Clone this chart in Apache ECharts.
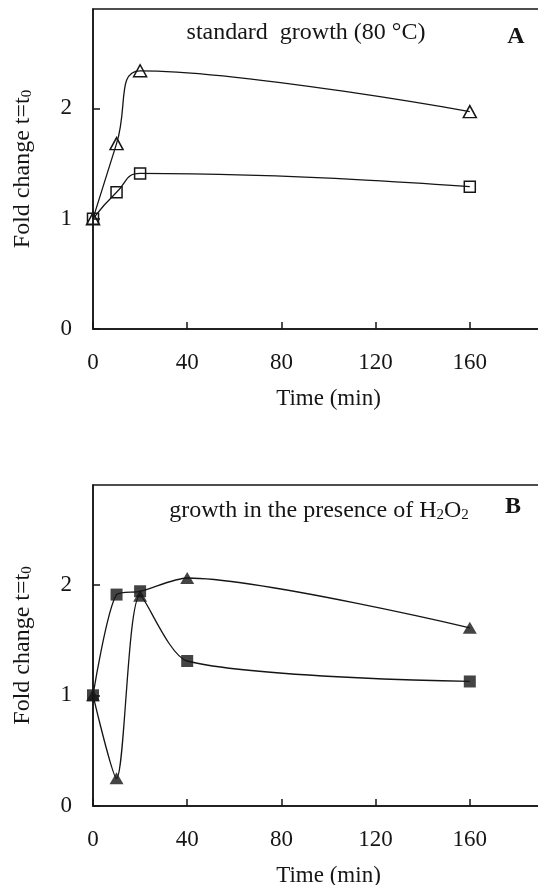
<!DOCTYPE html>
<html>
<head>
<meta charset="utf-8">
<script src="https://cdn.jsdelivr.net/npm/echarts@6/dist/echarts.min.js"></script>
<style>
  html, body { margin: 0; padding: 0; background: #fff; }
  #chart { width: 538px; height: 885px; }
</style>
</head>
<body>
<div id="chart"></div>
<script>
// panel A: standard growth
var timeA = [0, 10, 20, 160];
var triA = [1.0, 1.68, 2.34, 1.97];
var sqA = [1.0, 1.24, 1.41, 1.29];

// panel B: growth with H2O2
var timeB = [0, 10, 20, 40, 160];
var triB = [1.0, 0.25, 1.9, 2.06, 1.61];
var sqB = [1.0, 1.91, 1.94, 1.31, 1.125];
// the drawn curves cross over at 20 min, so they are kept apart from the markers
var upperCurveB = [1.0, 1.91, 1.94, 2.06, 1.61];
var lowerCurveB = [1.0, 0.25, 1.9, 1.31, 1.125];

var xTicks = [0, 40, 80, 120, 160];
var yTicks = [0, 1, 2];

var font = "'Liberation Serif', 'Times New Roman', serif";
var ink = "#151515";

function pair(xs, ys) {
  return xs.map(function (x, i) { return [x, ys[i]]; });
}

function xAxisFor(gi) {
  return {
    type: "value",
    gridIndex: gi,
    min: 0,
    max: 200,
    interval: 40,
    name: "Time (min)",
    nameLocation: "middle",
    nameGap: 58,
    nameTextStyle: { fontFamily: font, fontSize: 23, color: ink },
    axisLine: { lineStyle: { color: ink, width: 1.5 } },
    axisTick: { inside: true, length: 7, lineStyle: { color: ink, width: 1.5 } },
    axisLabel: {
      margin: 22,
      fontFamily: font,
      fontSize: 23,
      color: ink,
      formatter: function (v) { return xTicks.indexOf(v) >= 0 ? String(v) : ""; },
    },
    splitLine: { show: false },
  };
}

function yAxisFor(gi) {
  return {
    type: "value",
    gridIndex: gi,
    min: 0,
    max: 2.9,
    interval: 1,
    name: "Fold change t=t{sub|0}",
    nameLocation: "middle",
    nameGap: 58,
    nameTextStyle: {
      fontFamily: font,
      fontSize: 24,
      color: ink,
      rich: { sub: { fontFamily: font, fontSize: 15, color: ink, verticalAlign: "bottom" } },
    },
    axisLine: { lineStyle: { color: ink, width: 1.5 } },
    axisTick: { inside: true, length: 7, lineStyle: { color: ink, width: 1.5 } },
    axisLabel: {
      margin: 21,
      showMaxLabel: false,
      fontFamily: font,
      fontSize: 23,
      color: ink,
      formatter: function (v) { return yTicks.indexOf(v) >= 0 ? String(v) : ""; },
    },
    splitLine: { show: false },
  };
}

var hollow = { color: "rgba(255,255,255,0)", borderColor: ink, borderWidth: 1.5 };
var line = { color: ink, width: 1.3 };

var option = {
  animation: false,
  backgroundColor: "#fff",
  grid: [
    // the frame runs past the right edge of the picture, as in the original crop
    { left: 93, top: 9, width: 471, height: 320, outerBoundsMode: "none", show: true, borderColor: ink, borderWidth: 1.5 },
    { left: 93, top: 485, width: 471, height: 321, outerBoundsMode: "none", show: true, borderColor: ink, borderWidth: 1.5 },
  ],
  xAxis: [xAxisFor(0), xAxisFor(1)],
  yAxis: [yAxisFor(0), yAxisFor(1)],
  graphic: [
    {
      type: "text", x: 306, y: 33,
      style: { text: "standard  growth (80 °C)", fontFamily: font, fontSize: 24, fill: ink, align: "center", verticalAlign: "middle" },
    },
    {
      type: "text", x: 516, y: 37,
      style: { text: "A", fontFamily: font, fontSize: 24, fontWeight: "bold", fill: ink, align: "center", verticalAlign: "middle" },
    },
    {
      type: "text", x: 319, y: 511,
      style: {
        text: "growth in the presence of H{sub|2}O{sub|2}",
        fontFamily: font, fontSize: 24, fill: ink, align: "center", verticalAlign: "middle",
        rich: { sub: { fontFamily: font, fontSize: 15, fill: ink, verticalAlign: "bottom" } },
      },
    },
    {
      type: "text", x: 513, y: 507,
      style: { text: "B", fontFamily: font, fontSize: 24, fontWeight: "bold", fill: ink, align: "center", verticalAlign: "middle" },
    },
  ],
  series: [
    {
      type: "line", xAxisIndex: 0, yAxisIndex: 0, data: pair(timeA, triA), smooth: 0.5,
      symbol: "triangle", symbolSize: [13, 12], itemStyle: hollow, lineStyle: line,
    },
    {
      type: "line", xAxisIndex: 0, yAxisIndex: 0, data: pair(timeA, sqA), smooth: 0.5,
      symbol: "rect", symbolSize: 11, itemStyle: hollow, lineStyle: line,
    },
    {
      type: "line", xAxisIndex: 1, yAxisIndex: 1, data: pair(timeB, upperCurveB), smooth: 0.25,
      symbol: "none", lineStyle: line,
    },
    {
      type: "line", xAxisIndex: 1, yAxisIndex: 1, data: pair(timeB, lowerCurveB), smooth: 0.25,
      symbol: "none", lineStyle: line,
    },
    {
      type: "scatter", xAxisIndex: 1, yAxisIndex: 1, data: pair(timeB, triB),
      symbol: "triangle", symbolSize: [14, 12], itemStyle: { color: ink },
    },
    {
      type: "scatter", xAxisIndex: 1, yAxisIndex: 1, data: pair(timeB, sqB),
      symbol: "rect", symbolSize: 12, itemStyle: { color: ink },
    },
  ],
};

var chart = echarts.init(document.getElementById("chart"));
chart.setOption(option);
</script>
</body>
</html>
